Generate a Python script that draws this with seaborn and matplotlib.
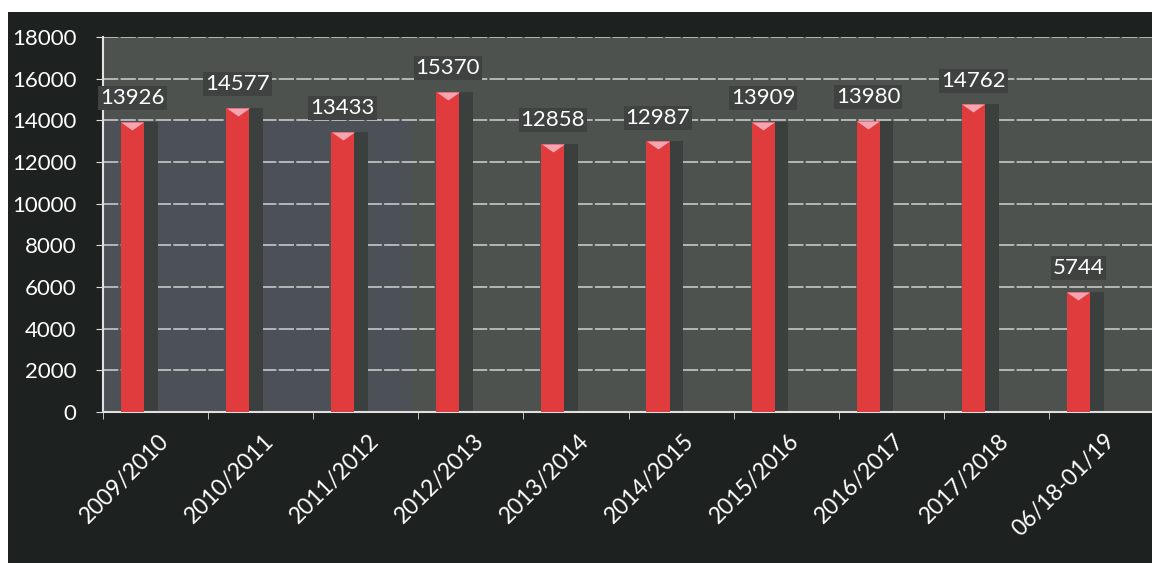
import numpy as np
import seaborn as sns
import matplotlib.pyplot as plt
from matplotlib.patches import Rectangle

# data
categories = ["2009/2010", "2010/2011", "2011/2012", "2012/2013", "2013/2014",
              "2014/2015", "2015/2016", "2016/2017", "2017/2018", "06/18-01/19"]
values = [13926, 14577, 13433, 15370, 12858, 12987, 13909, 13980, 14762, 5744]
yticks = list(range(0, 18001, 2000))

sns.set_style("dark")
plt.rcParams['font.family'] = ['Lato', 'DejaVu Sans']

fig = plt.figure(figsize=(11.52, 5.63), dpi=100, facecolor="white")
# dark frame of the scanned chart
fig.patches.append(Rectangle((8 / 1152, 0), 1, 1 - 12 / 563, transform=fig.transFigure,
                             facecolor="#1d2220", edgecolor="none", zorder=-10))
ax = fig.add_axes([103 / 1152, 1 - 412 / 563, 1 - 103 / 1152, (412 - 37) / 563])
ax.set_zorder(5)
ax.set_facecolor("#4d524f")

pos = np.arange(len(categories))
# bluish tint behind the first few columns
ax.axvspan(-0.28, 2.65, ymax=14000 / 18000, color="#47506a", alpha=0.3, zorder=0, lw=0)

# dark depth box behind each bar (shifted a bit right), then the red bar
ax.bar(pos + 0.07, values, width=0.34, color="#3b403f", linewidth=0, zorder=2)
sns.barplot(x=categories, y=values, color="#e03b3d", width=0.22, saturation=1,
            linewidth=0, edgecolor="none", ax=ax, zorder=3)

# pink top caps (flat top sitting on the bar top)
cap = [(-1, 0), (1, 0), (0, -0.7), (-1, 0)]
ax.scatter(pos, values, marker=cap, s=270, color="#f3a6b2", zorder=4, linewidths=0)

ax.bar_label(ax.containers[1], labels=[str(v) for v in values], padding=10,
             color="white", fontsize=16,
             bbox=dict(facecolor="#3e4241", edgecolor="none", pad=1.5), zorder=5)

ax.set_xlim(-0.28, 9.7)
ax.set_ylim(0, 18000)
ax.set_yticks(yticks)
ax.set_yticklabels([str(t) for t in yticks], color="white", fontsize=16)
ax.yaxis.grid(True, color="#d2d2d2", linewidth=1.1, linestyle=(0, (10, 1.5)), zorder=1)
ax.xaxis.grid(False)
ax.set_axisbelow(True)

ax.set_xticks(pos + 0.24)
ax.set_xticklabels(categories, rotation=45, ha="right", rotation_mode="anchor",
                   color="white", fontsize=16.5)
ax.set_xticks(np.arange(len(categories)) - 0.28, minor=True)
ax.tick_params(axis="x", which="major", length=0, pad=13)
ax.tick_params(axis="x", which="minor", length=5, color="#dddddd", bottom=True)
ax.tick_params(axis="y", length=5, color="#dddddd", left=True, pad=14)
ax.set_xlabel("")
ax.set_ylabel("")

for side in ["top", "right"]:
    ax.spines[side].set_visible(False)
for side in ["left", "bottom"]:
    ax.spines[side].set_visible(True)
    ax.spines[side].set_color("#e0e0e0")
    ax.spines[side].set_linewidth(1.5)

fig.savefig("out.png", dpi=100, facecolor=fig.get_facecolor())
